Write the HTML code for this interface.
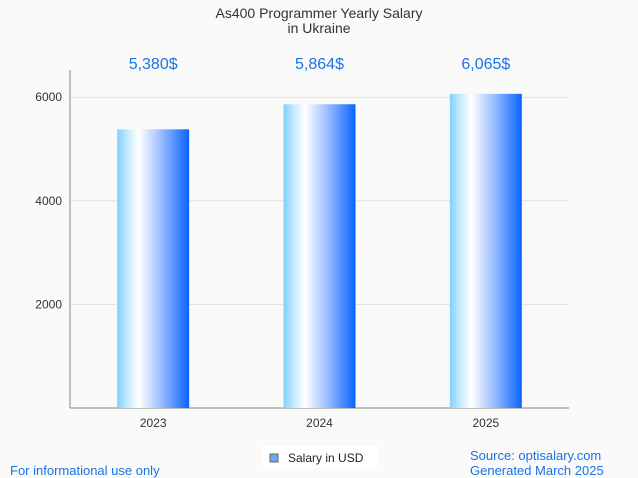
<!DOCTYPE html>
<html><head><meta charset="utf-8"><style>
body{margin:0;background:#fafaf8;font-family:"Liberation Sans",sans-serif}
svg{display:block}
</style></head><body>
<svg id="c" width="638" height="478">
<defs><linearGradient id="g" x1="0" x2="1" y1="0" y2="0">
<stop offset="0" stop-color="#7fd0ff"/><stop offset="0.15" stop-color="#c6ecff"/><stop offset="0.3" stop-color="#ffffff"/><stop offset="0.6" stop-color="#9ebfff"/><stop offset="1" stop-color="#0a64ff"/>
</linearGradient></defs>
<text x="319" y="18" text-anchor="middle" font-size="14" fill="#333">As400 Programmer Yearly Salary</text>
<text x="319" y="33" text-anchor="middle" font-size="14" fill="#333">in Ukraine</text>
<g id="grid"></g><g id="bars"></g>
<rect x="263" y="446" width="114" height="22" fill="#fff"/>
<rect x="270" y="454" width="8" height="8" fill="#6aa8f0" stroke="#666" stroke-width="1"/>
<text x="288" y="462" font-size="12" fill="#222">Salary in USD</text>
<text x="10" y="475" font-size="13" fill="#1a73e8">For informational use only</text>
<text x="470" y="460" font-size="13" fill="#1a73e8">Source: optisalary.com</text>
<text x="470" y="475" font-size="13" fill="#1a73e8">Generated March 2025</text>
</svg>
<script>
const categories=["2023","2024","2025"];
const salaries=[5380,5864,6065];
const valueLabels=["5,380$","5,864$","6,065$"];
const yTicks=[2000,4000,6000];
const NS="http://www.w3.org/2000/svg";
const L=70,R=569,B=408,scale=51.8/1000;
const y=v=>B-v*scale;
const band=(R-L)/categories.length;
const x=i=>L+band*(i+0.5);
function mk(t,a,p){const e=document.createElementNS(NS,t);for(const k in a)e.setAttribute(k,a[k]);p.appendChild(e);return e;}
const grid=document.getElementById('grid'),bars=document.getElementById('bars');
yTicks.forEach(v=>{
 const l=mk('line',{x1:L,x2:R,y1:y(v),y2:y(v),stroke:'#e0e0e0'},grid);
 
 
 const t=mk('text',{x:L-8,y:y(v)+4,'text-anchor':'end','font-size':12,fill:'#333'},grid);
 t.textContent=v;
 
 
});
const ax=mk('line',{x1:L,x2:L,y1:70,y2:B,stroke:'#888'},grid);


const xa=mk('line',{x1:L,x2:R,y1:B,y2:B,stroke:'#888'},grid);


categories.forEach((c,i)=>{
 const w=72;
 const r=mk('rect',{x:x(i)-w/2,y:y(salaries[i]),width:w,height:B-y(salaries[i]),fill:'url(#g)'},bars);
 
 
 const t=mk('text',{x:x(i),y:B+19,'text-anchor':'middle','font-size':12,fill:'#333'},bars);
 t.textContent=c;
 
 
 const v=mk('text',{x:x(i),y:69,'text-anchor':'middle','font-size':16,fill:'#1a73e8'},bars);
 v.textContent=valueLabels[i];
 
 
});
</script>
</body></html>
